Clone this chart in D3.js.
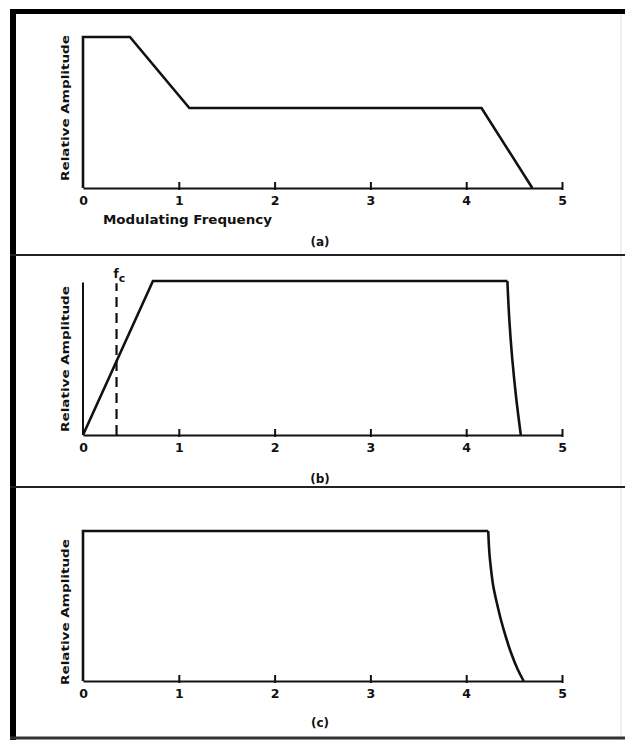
<!DOCTYPE html>
<html>
<head>
<meta charset="utf-8">
<script src="https://cdn.jsdelivr.net/npm/d3@7/dist/d3.min.js"></script>
<style>
html,body{margin:0;padding:0;background:#fff;}
svg{display:block;}
text{font-family:"DejaVu Sans","Liberation Sans",Arial,sans-serif;font-weight:bold;fill:#111;}
</style>
</head>
<body>
<svg id="chart" width="625" height="740"></svg>
<script>
// ---- data ----
const freqTicks = [0, 1, 2, 3, 4, 5];
const panelLabels = ["(a)", "(b)", "(c)"];
const yAxisTitle = "Relative Amplitude";
const xAxisTitle = "Modulating Frequency";

// straight-line parts and curved roll-off parts of each response
const freqA = [0, 0, 0.49, 1.11, 4.16, 4.69];
const ampA  = [0, 1, 1, 0.53, 0.53, 0];

const freqB = [0, 0.73, 4.43];
const ampB  = [0, 1, 1];
const freqBRoll = [4.43, 4.45, 4.48, 4.52, 4.57];
const ampBRoll  = [1, 0.75, 0.5, 0.25, 0];
const fcFreq = 0.35;

const freqC = [0, 0, 4.23];
const ampC  = [0, 1, 1];
const freqCRoll = [4.23, 4.24, 4.26, 4.28, 4.32, 4.36, 4.41, 4.47, 4.54, 4.60];
const ampCRoll  = [1, 0.85, 0.74, 0.63, 0.52, 0.41, 0.30, 0.18, 0.07, 0];

// ---- layout ----
const svg = d3.select("#chart");
const x = d3.scaleLinear().domain([0, 5]).range([83, 562]);

const panels = [
  {freq: freqA, amp: ampA, y: d3.scaleLinear().domain([0,1]).range([188, 37]), label: panelLabels[0], labelY: 246, yTitleC: 108, xTitle: true, yAxis: false},
  {freq: freqB, amp: ampB, rollF: freqBRoll, rollA: ampBRoll, rollCurve: d3.curveMonotoneY, y: d3.scaleLinear().domain([0,1]).range([435, 281]), label: panelLabels[1], labelY: 483, yTitleC: 359, xTitle: false, yAxis: true, fc: fcFreq},
  {freq: freqC, amp: ampC, rollF: freqCRoll, rollA: ampCRoll, rollCurve: d3.curveBasis, y: d3.scaleLinear().domain([0,1]).range([681, 531]), label: panelLabels[2], labelY: 727, yTitleC: 612, xTitle: false, yAxis: false}
];

// frame
svg.append("line").attr("x1", 621).attr("x2", 621).attr("y1", 12).attr("y2", 738)
  .attr("stroke", "#e2e2e2").attr("stroke-width", 1);
svg.append("line").attr("x1", 10).attr("x2", 625).attr("y1", 11.5).attr("y2", 11.5)
  .attr("stroke", "#000").attr("stroke-width", 5);
svg.append("line").attr("x1", 13).attr("x2", 13).attr("y1", 9).attr("y2", 740)
  .attr("stroke", "#000").attr("stroke-width", 6);
svg.append("line").attr("x1", 10).attr("x2", 625).attr("y1", 738).attr("y2", 738)
  .attr("stroke", "#333").attr("stroke-width", 3);
[255, 487].forEach(yy => {
  svg.append("line").attr("x1", 10).attr("x2", 625).attr("y1", yy).attr("y2", yy)
    .attr("stroke", "#222").attr("stroke-width", 2);
});

panels.forEach(p => {
  const g = svg.append("g");
  const base = p.y(0);

  // x axis
  const axis = d3.axisBottom(x).tickValues(freqTicks).tickFormat(d3.format("d"))
    .tickSizeInner(-6).tickSizeOuter(0).tickPadding(8);
  const ax = g.append("g").attr("transform", `translate(0,${base})`).call(axis);
  ax.attr("font-size", 12.5).attr("font-family", null);
  ax.select(".domain").attr("stroke", "#111").attr("stroke-width", 2.2);
  ax.selectAll(".tick line").attr("stroke", "#111").attr("stroke-width", 2)
    .attr("y1", 2).attr("y2", -6);
  ax.selectAll(".tick").filter(d => d === 0).select("line").remove();
  ax.selectAll(".tick text").attr("font-size", 12.5).attr("font-weight", "bold")
    .attr("fill", "#111").attr("dy", "0.71em");

  // y axis line (panel b)
  if (p.yAxis) {
    g.append("line").attr("x1", x(0)).attr("x2", x(0))
      .attr("y1", base).attr("y2", p.y(0.99))
      .attr("stroke", "#111").attr("stroke-width", 2);
  }

  // response curve: straight part
  const pts = p.freq.map((f, i) => [f, p.amp[i]]);
  g.append("path").datum(pts)
    .attr("d", d3.line().x(d => x(d[0])).y(d => p.y(d[1])))
    .attr("fill", "none").attr("stroke", "#111").attr("stroke-width", 2.6)
    .attr("stroke-linejoin", "miter");
  // roll-off part
  if (p.rollF) {
    const rp = p.rollF.map((f, i) => [f, p.rollA[i]]);
    g.append("path").datum(rp)
      .attr("d", d3.line().x(d => x(d[0])).y(d => p.y(d[1])).curve(p.rollCurve))
      .attr("fill", "none").attr("stroke", "#111").attr("stroke-width", 2.6);
  }

  // fc dashed line
  if (p.fc !== undefined) {
    g.append("line").attr("x1", x(p.fc)).attr("x2", x(p.fc))
      .attr("y1", base).attr("y2", p.y(0.985))
      .attr("stroke", "#111").attr("stroke-width", 2.2)
      .attr("stroke-dasharray", "10,6");
    const t = g.append("text").attr("x", x(p.fc) - 3).attr("y", p.y(1.02))
      .attr("font-size", 12);
    t.append("tspan").text("f");
    t.append("tspan").attr("dy", 4).attr("font-size", 11).text("c");
  }

  // y title
  g.append("text")
    .attr("transform", `translate(69,${p.yTitleC}) rotate(-90)`)
    .attr("text-anchor", "middle").attr("font-size", 10)
    .attr("fill", "#333")
    .attr("textLength", 146).attr("lengthAdjust", "spacingAndGlyphs")
    .text(yAxisTitle);

  // x title
  if (p.xTitle) {
    g.append("text").attr("x", 103).attr("y", 224)
      .attr("font-size", 12).attr("textLength", 169).attr("lengthAdjust", "spacingAndGlyphs")
      .text(xAxisTitle);
  }

  // panel label
  g.append("text").attr("x", 320).attr("y", p.labelY)
    .attr("text-anchor", "middle").attr("font-size", 12)
    .text(p.label);
});
</script>
</body>
</html>
